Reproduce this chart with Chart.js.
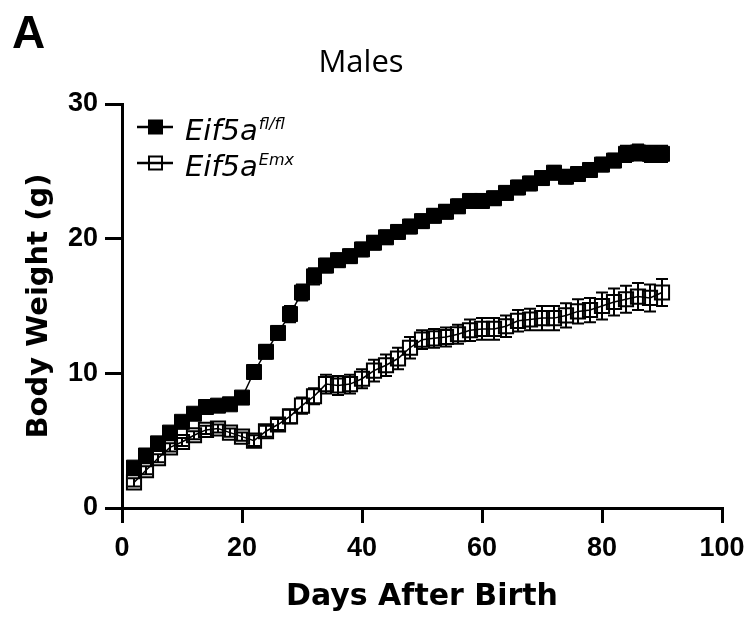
<!DOCTYPE html>
<html>
<head>
<meta charset="utf-8">
<title>Males - Body Weight</title>
<script src="https://cdn.jsdelivr.net/npm/chart.js@4/dist/chart.umd.min.js"></script>
<style>
    html, body { margin: 0; padding: 0; background: #fff; }
    #wrap { position: relative; width: 755px; height: 621px; }
    #panel {
        position: absolute; left: 12px; top: 5px;
        font: bold 46px "Liberation Sans", Arial, sans-serif; color: #000;
    }
</style>
</head>
<body>
<div id="wrap">
    <canvas id="weightChart" width="755" height="621"></canvas>
    <div id="panel">A</div>
</div>
<script>
// Data (days after birth, mean body weight in g, SEM)
const days = [2, 4, 6, 8, 10, 12, 14, 16, 18, 20, 22, 24, 26, 28, 30, 32, 34, 36, 38, 40, 42, 44, 46,
              48, 50, 52, 54, 56, 58, 60, 62, 64, 66, 68, 70, 72, 74, 76, 78, 80, 82, 84, 86, 88, 90];
const floxWeight = [3.0, 3.9, 4.8, 5.6, 6.4, 7.0, 7.5, 7.6, 7.7, 8.2, 10.1, 11.6, 13.0, 14.4, 16.0, 17.2,
                    18.0, 18.4, 18.7, 19.2, 19.7, 20.1, 20.5, 20.9, 21.3, 21.7, 22.0, 22.4, 22.8, 22.8,
                    23.0, 23.4, 23.8, 24.1, 24.5, 24.9, 24.6, 24.8, 25.1, 25.5, 25.8, 26.3, 26.4, 26.3, 26.3];
const floxErr = [0.3, 0.3, 0.3, 0.3, 0.3, 0.3, 0.3, 0.3, 0.3, 0.4, 0.5, 0.5, 0.5, 0.6, 0.6, 0.6,
                 0.5, 0.5, 0.5, 0.5, 0.5, 0.5, 0.5, 0.5, 0.5, 0.5, 0.5, 0.5, 0.5, 0.5,
                 0.5, 0.5, 0.5, 0.5, 0.5, 0.5, 0.5, 0.5, 0.5, 0.5, 0.5, 0.6, 0.6, 0.6, 0.6];
const emxWeight = [1.9, 2.8, 3.7, 4.5, 4.9, 5.4, 5.8, 5.9, 5.6, 5.3, 5.0, 5.7, 6.2, 6.8, 7.6, 8.3,
                   9.2, 9.1, 9.2, 9.6, 10.2, 10.6, 11.1, 11.9, 12.5, 12.6, 12.7, 12.9, 13.2, 13.3,
                   13.3, 13.5, 13.9, 14.0, 14.1, 14.1, 14.3, 14.6, 14.7, 15.0, 15.3, 15.5, 15.7, 15.6, 16.0];
const emxErr = [0.3, 0.3, 0.3, 0.3, 0.3, 0.3, 0.3, 0.3, 0.3, 0.3, 0.4, 0.4, 0.4, 0.5, 0.6, 0.6,
                0.7, 0.7, 0.7, 0.7, 0.8, 0.8, 0.8, 0.8, 0.7, 0.7, 0.7, 0.7, 0.8, 0.8,
                0.8, 0.8, 0.8, 0.8, 0.9, 0.9, 0.9, 0.9, 0.9, 1.0, 1.0, 1.0, 1.0, 1.0, 1.0];
const xTicks = [0, 20, 40, 60, 80, 100];
const yTicks = [0, 10, 20, 30];
const legendBase = ['Eif5a', 'Eif5a'];
const legendSup = ['fl/fl', 'Emx'];

const FONT = '"Liberation Sans", Arial, sans-serif';
const WIDE = '"DejaVu Sans", sans-serif';
const errs = [floxErr, emxErr];

// Vertical SEM bars, drawn under the markers
const errorBars = {
    id: 'errorBars',
    beforeDatasetsDraw(chart) {
        const ctx = chart.ctx;
        const xs = chart.scales.x, ys = chart.scales.y;
        ctx.save();
        ctx.strokeStyle = '#000';
        ctx.lineWidth = 2;
        chart.data.datasets.forEach((ds, di) => {
            ds.data.forEach((p, i) => {
                const px = xs.getPixelForValue(p.x);
                const top = ys.getPixelForValue(p.y + errs[di][i]);
                const bot = ys.getPixelForValue(p.y - errs[di][i]);
                ctx.beginPath();
                ctx.moveTo(px, top); ctx.lineTo(px, bot);
                ctx.moveTo(px - 6, top); ctx.lineTo(px + 6, top);
                ctx.moveTo(px - 6, bot); ctx.lineTo(px + 6, bot);
                ctx.stroke();
            });
        });
        ctx.restore();
    }
};

// Legend with italic gene names and superscripts
const geneLegend = {
    id: 'geneLegend',
    afterDraw(chart) {
        const ctx = chart.ctx;
        const rows = [127, 163];
        ctx.save();
        chart.data.datasets.forEach((ds, i) => {
            const y = rows[i];
            ctx.strokeStyle = '#000';
            ctx.lineWidth = 2.5;
            ctx.beginPath();
            ctx.moveTo(137, y); ctx.lineTo(173, y);
            ctx.stroke();
            if (i === 0) {
                ctx.fillStyle = '#000';
                ctx.fillRect(148, y - 7.5, 15, 15);
            } else {
                ctx.lineWidth = 2;
                ctx.strokeRect(149, y - 6.5, 13, 13);
            }
            ctx.fillStyle = '#000';
            ctx.textBaseline = 'alphabetic';
            ctx.font = 'italic 29px ' + WIDE;
            ctx.fillText(legendBase[i], 185, y + 13);
            const w = ctx.measureText(legendBase[i]).width;
            ctx.font = 'italic 16px ' + WIDE;
            ctx.fillText(legendSup[i], 185 + w + 1, y + 2);
        });
        ctx.restore();
    }
};

function toPoints(ys) {
    return days.map((d, i) => ({ x: d, y: ys[i] }));
}

document.addEventListener('DOMContentLoaded', function() {
    const ctx = document.getElementById('weightChart').getContext('2d');
    new Chart(ctx, {
        type: 'line',
        data: {
            datasets: [{
                label: legendBase[0] + legendSup[0],
                data: toPoints(floxWeight),
                borderColor: '#000',
                borderWidth: 1.5,
                pointStyle: 'rect',
                pointRadius: 10.6,
                pointBackgroundColor: '#000',
                pointBorderColor: '#000',
                pointBorderWidth: 1
            }, {
                label: legendBase[1] + legendSup[1],
                data: toPoints(emxWeight),
                borderColor: '#000',
                borderWidth: 1.5,
                pointStyle: 'rect',
                pointRadius: 10,
                pointBackgroundColor: 'rgba(0,0,0,0)',
                pointBorderColor: '#000',
                pointBorderWidth: 2
            }]
        },
        options: {
            responsive: false,
            animation: false,
            layout: { padding: { left: 0, right: 33, top: 0, bottom: 4 } },
            plugins: {
                legend: { display: false },
                tooltip: { enabled: false },
                title: {
                    display: true,
                    text: 'Males',
                    color: '#000',
                    font: { family: '"Open Sans", sans-serif', size: 31, weight: 'normal' },
                    padding: { top: 45, bottom: 21.8 }
                }
            },
            scales: {
                x: {
                    type: 'linear',
                    min: xTicks[0],
                    max: xTicks[xTicks.length - 1],
                    afterBuildTicks: scale => { scale.ticks = xTicks.map(v => ({ value: v })); },
                    afterFit: scale => { scale.height = 621 - 508 - 4; },
                    ticks: { color: '#000', padding: 9, font: { family: FONT, size: 27, weight: 'bold' } },
                    grid: { drawOnChartArea: false, color: '#000', lineWidth: 3, tickLength: 15 },
                    border: { color: '#000', width: 3 },
                    title: {
                        display: true,
                        text: 'Days After Birth',
                        color: '#000',
                        font: { family: WIDE, size: 30, weight: 'bold' },
                        padding: { top: 4, bottom: 2 }
                    }
                },
                y: {
                    min: yTicks[0],
                    max: yTicks[yTicks.length - 1],
                    afterBuildTicks: scale => { scale.ticks = yTicks.map(v => ({ value: v })); },
                    afterFit: scale => { scale.width = 122; },
                    ticks: { color: '#000', padding: 7, font: { family: FONT, size: 27, weight: 'bold' } },
                    grid: { drawOnChartArea: false, color: '#000', lineWidth: 3, tickLength: 17 },
                    border: { color: '#000', width: 3 },
                    title: {
                        display: true,
                        text: 'Body Weight (g)',
                        color: '#000',
                        font: { family: WIDE, size: 29, weight: 'bold' },
                        padding: { top: 22, bottom: 0 }
                    }
                }
            }
        },
        plugins: [errorBars, geneLegend]
    });
});
</script>
</body>
</html>
